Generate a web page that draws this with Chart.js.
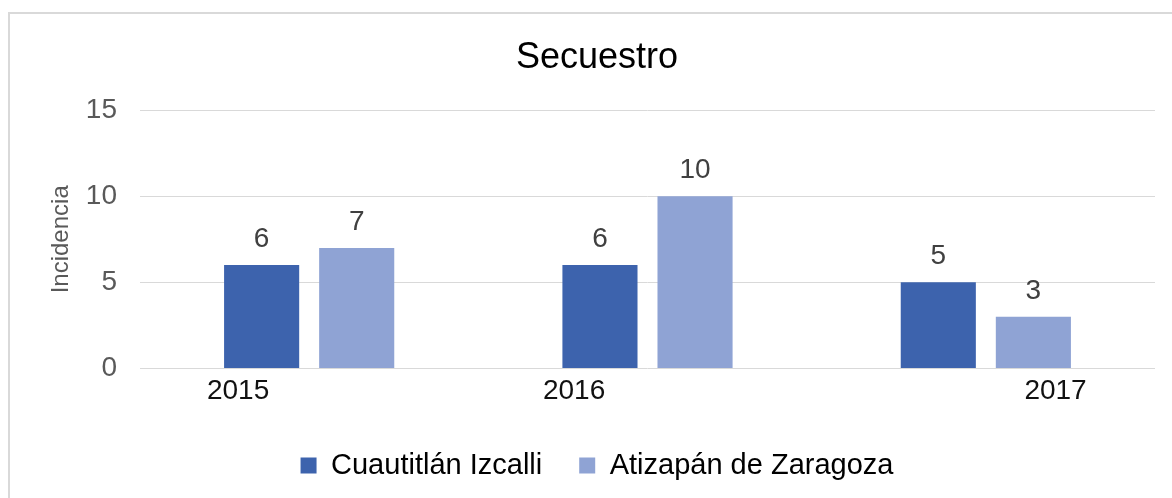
<!DOCTYPE html>
<html lang="es">
<head>
<meta charset="utf-8">
<title>Secuestro</title>
<script src="https://cdn.jsdelivr.net/npm/chart.js@4/dist/chart.umd.min.js"></script>
<style>
  html, body { margin: 0; padding: 0; background: #fff; overflow: hidden; }
  .marco {
    position: absolute;
    left: 8px;
    top: 12px;
    width: 1200px;
    height: 520px;
    border: 2px solid #d9d9d9;
  }
  #grafica { position: absolute; left: 0; top: 0; }
</style>
</head>
<body>
<div class="marco">
  <canvas id="grafica" width="1162" height="484"></canvas>
</div>
<script>
const anios = ['2015', '2016', '2017'];
const cuautitlan = [6, 6, 5];
const atizapan = [7, 10, 3];
const ticksY = [0, 5, 10, 15];

const fuente = "'Liberation Sans', Arial, sans-serif";

// etiquetas de valor encima de cada barra
const etiquetasValor = {
    id: 'etiquetasValor',
    afterDatasetsDraw(chart) {
        const { ctx } = chart;
        ctx.save();
        ctx.font = `28px ${fuente}`;
        ctx.fillStyle = '#404040';
        ctx.textAlign = 'center';
        ctx.textBaseline = 'alphabetic';
        chart.data.datasets.forEach((ds, i) => {
            chart.getDatasetMeta(i).data.forEach((bar, j) => {
                ctx.fillText(ds.data[j], bar.x, bar.y - 18);
            });
        });
        ctx.restore();
    },
};

// los años del original no quedan centrados bajo cada grupo
const aniosDesplazados = {
    id: 'aniosDesplazados',
    afterDraw(chart, args, opts) {
        const { ctx } = chart;
        const x = chart.scales.x;
        const ancho = (x.right - x.left) / anios.length;
        ctx.save();
        ctx.font = `28px ${fuente}`;
        ctx.fillStyle = '#111';
        ctx.textAlign = 'center';
        ctx.textBaseline = 'middle';
        anios.forEach((a, i) => {
            ctx.fillText(a, x.getPixelForValue(i) + opts.corrimiento[i] * ancho, chart.chartArea.bottom + 23);
        });
        ctx.restore();
    },
};

const ctx = document.getElementById('grafica').getContext('2d');

new Chart(ctx, {
    type: 'bar',
    data: {
        labels: anios,
        datasets: [
            {
                label: 'Cuautitlán Izcalli',
                data: cuautitlan,
                backgroundColor: '#3d63ad',
                categoryPercentage: 0.562,
                barPercentage: 0.79,
            },
            {
                label: 'Atizapán de Zaragoza',
                data: atizapan,
                backgroundColor: '#8fa3d4',
                categoryPercentage: 0.562,
                barPercentage: 0.79,
            },
        ],
    },
    options: {
        responsive: false,
        animation: false,
        layout: { padding: { left: 29, right: 17, top: 0, bottom: 8 } },
        plugins: {
            tooltip: { enabled: false },
            title: {
                display: true,
                text: 'Secuestro',
                color: '#000',
                font: { family: fuente, size: 36, weight: 'normal' },
                padding: { top: 22, bottom: 31 },
            },
            legend: {
                position: 'bottom',
                labels: {
                    color: '#000',
                    font: { family: fuente, size: 29 },
                    boxWidth: 16,
                    boxHeight: 16,
                    padding: 37,
                },
            },
            aniosDesplazados: { corrimiento: [-0.21, -0.217, 0.206] },
        },
        scales: {
            x: {
                grid: { display: false, drawTicks: false },
                border: { display: false },
                ticks: {
                    color: 'rgba(0,0,0,0)',
                    font: { family: fuente, size: 28 },
                    padding: 6,
                },
            },
            y: {
                min: 0,
                max: 15,
                afterBuildTicks(scale) {
                    scale.ticks = ticksY.map(v => ({ value: v }));
                },
                afterFit(scale) {
                    scale.width = 101;
                },
                grid: { color: '#d9d9d9', drawTicks: false, lineWidth: 1 },
                border: { display: false },
                ticks: {
                    color: '#595959',
                    font: { family: fuente, size: 28 },
                    padding: 23,
                },
                title: {
                    display: true,
                    text: 'Incidencia',
                    color: '#595959',
                    font: { family: fuente, size: 24 },
                    padding: { top: 8, bottom: 0 },
                },
            },
        },
    },
    plugins: [etiquetasValor, aniosDesplazados],
});
</script>
</body>
</html>
